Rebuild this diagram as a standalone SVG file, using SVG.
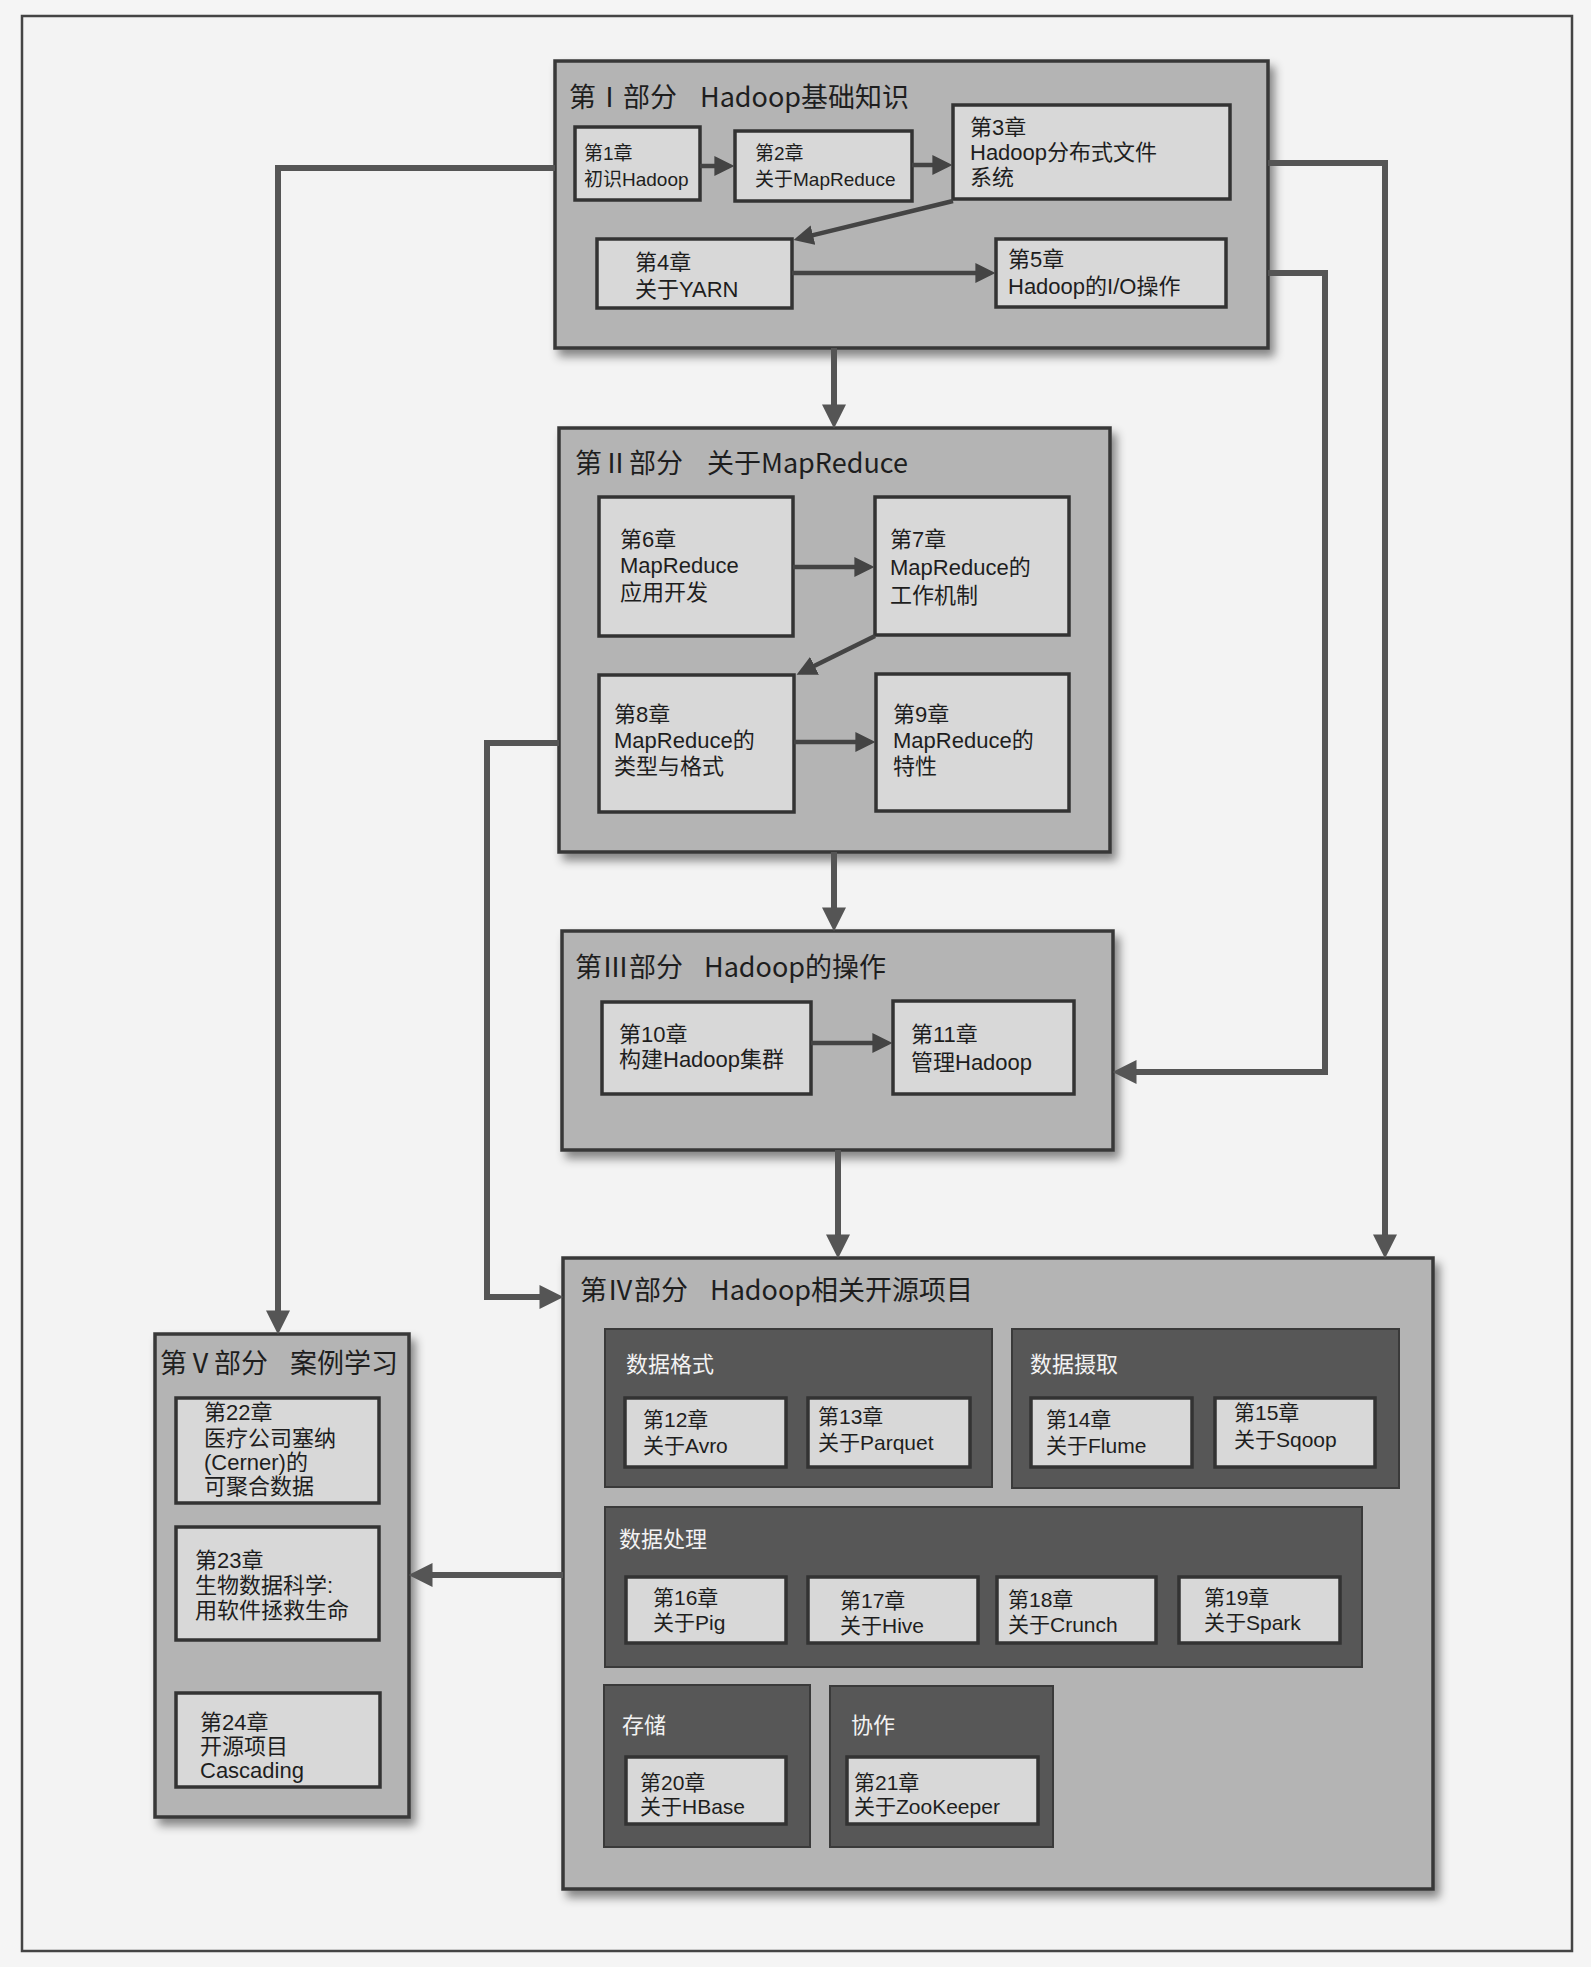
<svg xmlns="http://www.w3.org/2000/svg" width="1591" height="1967" viewBox="0 0 1591 1967">
<defs>
<filter id="sh" x="-10%" y="-10%" width="125%" height="125%">
<feDropShadow dx="5" dy="7" stdDeviation="5" flood-color="#000" flood-opacity="0.45"/>
</filter>
<marker id="ah" viewBox="0 0 10 10" refX="7.3" refY="5" markerUnits="userSpaceOnUse" markerWidth="24" markerHeight="24" orient="auto">
<path d="M0,0 L10,5 L0,10 z" fill="#555"/>
</marker>
<marker id="as" viewBox="0 0 10 10" refX="7.3" refY="5" markerUnits="userSpaceOnUse" markerWidth="20" markerHeight="20" orient="auto">
<path d="M0,0 L10,5 L0,10 z" fill="#444"/>
</marker>
</defs>
<style>
text{font-family:"Liberation Sans","Noto Sans CJK SC",sans-serif;fill:#1e1e1e}
.pt{font-family:"Noto Sans CJK SC","Noto Sans",sans-serif;font-size:27px}
.part{fill:#b4b4b4;stroke:#383838;stroke-width:3.5}
.ch{fill:#d8d8d8;stroke:#333;stroke-width:3.5}
.grp{fill:#575757;stroke:#3a3a3a;stroke-width:2}
.t19{font-size:19px}
.t22{font-size:22px}
.t21{font-size:21px}
.gl{font-size:22px;fill:#f2f2f2}
.c{fill:none;stroke:#555;stroke-width:6}
.ci{fill:none;stroke:#444;stroke-width:4.5}
</style>
<rect x="0" y="0" width="1591" height="1967" fill="#f5f5f5"/>
<rect x="22" y="16" width="1550" height="1935" fill="#f3f3f3" stroke="#444" stroke-width="2.5"/>

<g id="part1">
<rect class="part" x="555" y="61" width="713" height="287" filter="url(#sh)"/>
<text class="pt" x="569" y="107">第Ⅰ部分<tspan x="700">Hadoop基础知识</tspan></text>
</g>
<g id="ch1"><rect class="ch" x="575" y="127" width="125" height="73"/>
<text class="t19"><tspan x="584" y="160">第1章</tspan><tspan x="584" y="186">初识Hadoop</tspan></text></g>
<g id="ch2"><rect class="ch" x="735" y="131" width="177" height="70"/>
<text class="t19"><tspan x="755" y="160">第2章</tspan><tspan x="755" y="186">关于MapReduce</tspan></text></g>
<g id="ch3"><rect class="ch" x="953" y="105" width="277" height="94"/>
<text class="t22"><tspan x="970" y="135">第3章</tspan><tspan x="970" y="160">Hadoop分布式文件</tspan><tspan x="970" y="185">系统</tspan></text></g>
<g id="ch4"><rect class="ch" x="597" y="239" width="195" height="69"/>
<text class="t22"><tspan x="635" y="270">第4章</tspan><tspan x="635" y="297">关于YARN</tspan></text></g>
<g id="ch5"><rect class="ch" x="996" y="239" width="230" height="68"/>
<text class="t22"><tspan x="1008" y="267">第5章</tspan><tspan x="1008" y="294">Hadoop的I/O操作</tspan></text></g>

<g id="part2">
<rect class="part" x="559" y="428" width="551" height="424" filter="url(#sh)"/>
<text class="pt" x="575" y="473">第Ⅱ部分<tspan x="707">关于MapReduce</tspan></text>
</g>
<g id="ch6"><rect class="ch" x="599" y="497" width="194" height="139"/>
<text class="t22"><tspan x="620" y="547">第6章</tspan><tspan x="620" y="573">MapReduce</tspan><tspan x="620" y="600">应用开发</tspan></text></g>
<g id="ch7"><rect class="ch" x="875" y="497" width="194" height="138"/>
<text class="t22"><tspan x="890" y="547">第7章</tspan><tspan x="890" y="575">MapReduce的</tspan><tspan x="890" y="603">工作机制</tspan></text></g>
<g id="ch8"><rect class="ch" x="599" y="675" width="195" height="137"/>
<text class="t22"><tspan x="614" y="722">第8章</tspan><tspan x="614" y="748">MapReduce的</tspan><tspan x="614" y="774">类型与格式</tspan></text></g>
<g id="ch9"><rect class="ch" x="876" y="674" width="193" height="137"/>
<text class="t22"><tspan x="893" y="722">第9章</tspan><tspan x="893" y="748">MapReduce的</tspan><tspan x="893" y="774">特性</tspan></text></g>

<g id="part3">
<rect class="part" x="562" y="931" width="551" height="219" filter="url(#sh)"/>
<text class="pt" x="575" y="977">第Ⅲ部分<tspan x="704">Hadoop的操作</tspan></text>
</g>
<g id="ch10"><rect class="ch" x="602" y="1002" width="209" height="92"/>
<text class="t22"><tspan x="619" y="1042">第10章</tspan><tspan x="619" y="1067">构建Hadoop集群</tspan></text></g>
<g id="ch11"><rect class="ch" x="893" y="1001" width="181" height="93"/>
<text class="t22"><tspan x="911" y="1042">第11章</tspan><tspan x="911" y="1070">管理Hadoop</tspan></text></g>

<g id="part4">
<rect class="part" x="563" y="1258" width="870" height="631" filter="url(#sh)"/>
<text class="pt" x="580" y="1300">第Ⅳ部分<tspan x="710">Hadoop相关开源项目</tspan></text>
</g>
<g id="grp-format"><rect class="grp" x="605" y="1329" width="387" height="158"/>
<text class="gl" x="626" y="1372">数据格式</text></g>
<g id="grp-ingest"><rect class="grp" x="1012" y="1329" width="387" height="159"/>
<text class="gl" x="1030" y="1372">数据摄取</text></g>
<g id="grp-proc"><rect class="grp" x="605" y="1507" width="757" height="160"/>
<text class="gl" x="619" y="1547">数据处理</text></g>
<g id="grp-store"><rect class="grp" x="604" y="1685" width="206" height="162"/>
<text class="gl" x="622" y="1733">存储</text></g>
<g id="grp-coord"><rect class="grp" x="830" y="1686" width="223" height="161"/>
<text class="gl" x="851" y="1733">协作</text></g>
<g id="ch12"><rect class="ch" x="625" y="1398" width="161" height="69"/>
<text class="t21"><tspan x="643" y="1427">第12章</tspan><tspan x="643" y="1453">关于Avro</tspan></text></g>
<g id="ch13"><rect class="ch" x="808" y="1398" width="162" height="69"/>
<text class="t21"><tspan x="818" y="1424">第13章</tspan><tspan x="818" y="1450">关于Parquet</tspan></text></g>
<g id="ch14"><rect class="ch" x="1031" y="1398" width="161" height="69"/>
<text class="t21"><tspan x="1046" y="1427">第14章</tspan><tspan x="1046" y="1453">关于Flume</tspan></text></g>
<g id="ch15"><rect class="ch" x="1215" y="1398" width="160" height="69"/>
<text class="t21"><tspan x="1234" y="1420">第15章</tspan><tspan x="1234" y="1447">关于Sqoop</tspan></text></g>
<g id="ch16"><rect class="ch" x="626" y="1577" width="160" height="66"/>
<text class="t21"><tspan x="653" y="1605">第16章</tspan><tspan x="653" y="1630">关于Pig</tspan></text></g>
<g id="ch17"><rect class="ch" x="808" y="1577" width="170" height="66"/>
<text class="t21"><tspan x="840" y="1608">第17章</tspan><tspan x="840" y="1633">关于Hive</tspan></text></g>
<g id="ch18"><rect class="ch" x="997" y="1577" width="159" height="66"/>
<text class="t21"><tspan x="1008" y="1607">第18章</tspan><tspan x="1008" y="1632">关于Crunch</tspan></text></g>
<g id="ch19"><rect class="ch" x="1179" y="1577" width="161" height="66"/>
<text class="t21"><tspan x="1204" y="1605">第19章</tspan><tspan x="1204" y="1630">关于Spark</tspan></text></g>
<g id="ch20"><rect class="ch" x="626" y="1757" width="160" height="67"/>
<text class="t21"><tspan x="640" y="1790">第20章</tspan><tspan x="640" y="1814">关于HBase</tspan></text></g>
<g id="ch21"><rect class="ch" x="847" y="1757" width="191" height="67"/>
<text class="t21"><tspan x="854" y="1790">第21章</tspan><tspan x="854" y="1814">关于ZooKeeper</tspan></text></g>

<g id="part5">
<rect class="part" x="155" y="1334" width="254" height="483" filter="url(#sh)"/>
<text class="pt" x="160" y="1373">第Ⅴ部分<tspan x="290">案例学习</tspan></text>
</g>
<g id="ch22"><rect class="ch" x="176" y="1398" width="203" height="105"/>
<text class="t22"><tspan x="204" y="1420">第22章</tspan><tspan x="204" y="1446">医疗公司塞纳</tspan><tspan x="204" y="1470">(Cerner)的</tspan><tspan x="204" y="1494">可聚合数据</tspan></text></g>
<g id="ch23"><rect class="ch" x="176" y="1527" width="203" height="113"/>
<text class="t22"><tspan x="195" y="1568">第23章</tspan><tspan x="195" y="1593">生物数据科学:</tspan><tspan x="195" y="1618">用软件拯救生命</tspan></text></g>
<g id="ch24"><rect class="ch" x="176" y="1693" width="204" height="94"/>
<text class="t22"><tspan x="200" y="1730">第24章</tspan><tspan x="200" y="1754">开源项目</tspan><tspan x="200" y="1778">Cascading</tspan></text></g>

<g id="connectors">
<path class="ci" d="M700,166 H729" marker-end="url(#as)"/>
<path class="ci" d="M912,165 H947" marker-end="url(#as)"/>
<path class="ci" d="M953,201 L798.8,238.6" marker-end="url(#as)"/>
<path class="ci" d="M792,273 H990" marker-end="url(#as)"/>
<path class="ci" d="M793,567 H869" marker-end="url(#as)"/>
<path class="ci" d="M875,636 L801.4,672.3" marker-end="url(#as)"/>
<path class="ci" d="M794,742 H870" marker-end="url(#as)"/>
<path class="ci" d="M811,1043 H887" marker-end="url(#as)"/>
<path class="c" d="M834,348 V422" marker-end="url(#ah)"/>
<path class="c" d="M834,852 V925" marker-end="url(#ah)"/>
<path class="c" d="M838,1150 V1252" marker-end="url(#ah)"/>
<path class="c" d="M555,168 H278 V1328" marker-end="url(#ah)"/>
<path class="c" d="M559,743 H487 V1297 H557" marker-end="url(#ah)"/>
<path class="c" d="M1268,163 H1385 V1252" marker-end="url(#ah)"/>
<path class="c" d="M1268,273 H1325 V1072 H1119" marker-end="url(#ah)"/>
<path class="c" d="M563,1575 H415" marker-end="url(#ah)"/>
</g>
</svg>
